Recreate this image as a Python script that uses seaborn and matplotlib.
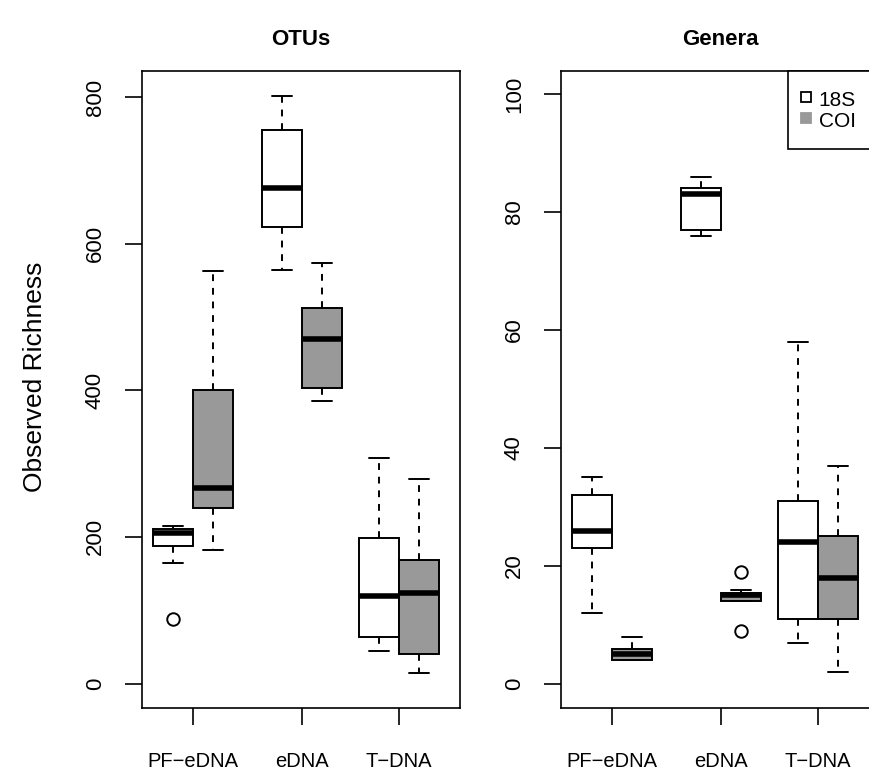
import matplotlib
matplotlib.use("Agg")
import matplotlib.pyplot as plt
from matplotlib.lines import Line2D
import seaborn as sns
import pandas as pd

# sample types and markers
sites = ["PF\u2212eDNA", "eDNA", "T\u2212DNA"]
markers = ["18S", "COI"]

# observed richness per replicate, read off the boxes
# OTUs
otu_pf_18s = [88, 165, 188, 195, 205, 208, 211, 213, 215]
otu_pf_coi = [182, 240, 267, 401, 563]
otu_e_18s = [564, 623, 676, 755, 802]
otu_e_coi = [386, 403, 470, 512, 574]
otu_t_18s = [44, 64, 119, 198, 307]
otu_t_coi = [14, 40, 124, 169, 279]
# Genera
gen_pf_18s = [12, 23, 26, 32, 35]
gen_pf_coi = [4, 4, 5, 6, 8]
gen_e_18s = [76, 77, 83, 84, 86]
gen_e_coi = [9, 14, 14, 14.5, 15, 15, 15.5, 16, 19]
gen_t_18s = [7, 11, 24, 31, 58]
gen_t_coi = [2, 11, 18, 25, 37]

otu_data = [[otu_pf_18s, otu_pf_coi], [otu_e_18s, otu_e_coi], [otu_t_18s, otu_t_coi]]
gen_data = [[gen_pf_18s, gen_pf_coi], [gen_e_18s, gen_e_coi], [gen_t_18s, gen_t_coi]]

# x slot of each sample type (uneven, as in the original layout)
site_pos = [51, 160, 257]


def to_frame(groups):
    rows = []
    for site, pos, pair in zip(sites, site_pos, groups):
        for marker, vals in zip(markers, pair):
            for v in vals:
                rows.append({"site": site, "pos": pos, "marker": marker, "value": v})
    return pd.DataFrame(rows)


otu_df = to_frame(otu_data)
gen_df = to_frame(gen_data)

sns.set_theme(style="white")
plt.rcParams['font.family'] = ['Liberation Sans', 'DejaVu Sans']
plt.rcParams['text.color'] = 'black'

fig = plt.figure(figsize=(8.7, 7.71), dpi=100)
ax1 = fig.add_axes([142 / 870, 63 / 771, 318 / 870, 637 / 771])
ax2 = fig.add_axes([561 / 870, 63 / 771, 318 / 870, 637 / 771])

pal = {"18S": "white", "COI": "#999999"}

panels = [
    (ax1, otu_df, "OTUs", [0, 200, 400, 600, 800], (-33.4, 835.5)),
    (ax2, gen_df, "Genera", [0, 20, 40, 60, 80, 100], (-4.07, 103.9)),
]

for ax, df, title, yt, ylim in panels:
    sns.boxplot(
        data=df, x="pos", y="value", hue="marker", hue_order=markers,
        palette=pal, native_scale=True, dodge=True, gap=0,
        width=80 / 97, linecolor="black", linewidth=1.4, whis=1.5,
        medianprops=dict(linewidth=4, color="black"),
        whiskerprops=dict(linestyle=(0, (3.5, 3.5))),
        flierprops=dict(marker="o", markerfacecolor="none",
                        markeredgecolor="black", markersize=9, markeredgewidth=1.4),
        legend=False, ax=ax,
    )
    ax.set_xlim(0, 318)
    ax.set_ylim(*ylim)
    ax.set_xticks(site_pos)
    ax.set_xticklabels(sites, fontsize=14.5)
    ax.set_yticks(yt)
    ax.set_yticklabels([str(t) for t in yt], rotation=90, va="center", fontsize=16)
    ax.set_xlabel("")
    ax.set_ylabel("")
    ax.tick_params(axis="both", direction="out", length=12, width=1.2,
                   color="black", labelcolor="black", left=True, bottom=True)
    ax.tick_params(axis="x", pad=20)
    ax.tick_params(axis="y", pad=14)
    for sp in ax.spines.values():
        sp.set_color("black")
        sp.set_linewidth(1.2)
    ax.set_title(title, fontsize=16, fontweight="bold", pad=19, color="black")

ax1.set_ylabel("Observed Richness", fontsize=19, color="black")
ax1.yaxis.set_label_coords(-0.30, 0.52)

handles = [
    Line2D([], [], marker="s", ls="", mfc="white", mec="black", ms=7.5, mew=1.3),
    Line2D([], [], marker="s", ls="", mfc="#999999", mec="#999999", ms=7.5, mew=1.3),
]
leg = ax2.legend(
    handles, markers, loc="upper left", bbox_to_anchor=(227 / 318, 0.0, 0.4, 1.0),
    mode="expand", borderaxespad=0, frameon=True, fancybox=False, framealpha=1,
    edgecolor="black", fontsize=15, handlelength=0.05, handleheight=1.1,
    handletextpad=0.58, borderpad=0.85, labelspacing=0.0,
)
leg.get_frame().set_linewidth(1.2)

fig.savefig("out.png", dpi=100)
